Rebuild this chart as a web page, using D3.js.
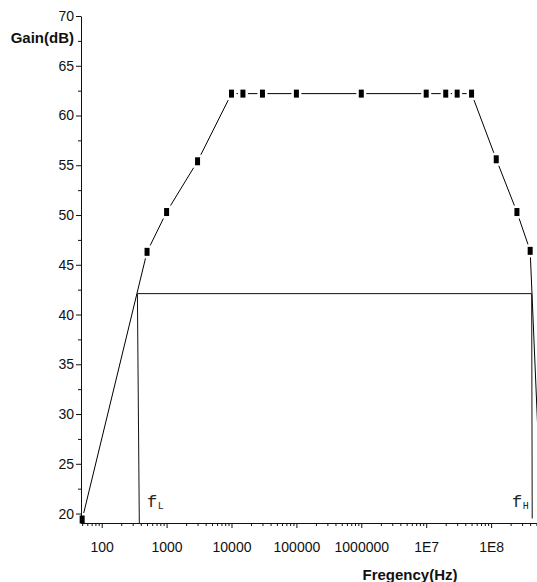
<!DOCTYPE html>
<html>
<head>
<meta charset="utf-8">
<script src="https://cdn.jsdelivr.net/npm/d3@7"></script>
<style>
  html, body { margin: 0; padding: 0; background: #fff; }
  svg { display: block; }
</style>
</head>
<body>
<script>
// ---- data ----
const freqs = [50, 500, 1000, 3000, 10000, 15000, 30000, 1e5, 1e6, 1e7, 2e7, 3e7, 5e7, 1.2e8, 2.5e8, 4e8, 6e8];
const gains = [19.4, 46.3, 50.3, 55.4, 62.2, 62.2, 62.2, 62.2, 62.2, 62.2, 62.2, 62.2, 62.2, 55.6, 50.3, 46.4, 19.4];
const yTicks = [20, 25, 30, 35, 40, 45, 50, 55, 60, 65, 70];
const yMinorTicks = [22.5, 27.5, 32.5, 37.5, 42.5, 47.5, 52.5, 57.5, 62.5, 67.5];
const xTickValues = [100, 1000, 1e4, 1e5, 1e6, 1e7, 1e8];
const xTickLabels = ["100", "1000", "10000", "100000", "1000000", "1E7", "1E8"];
const cutoffGain = 42.1;
const fLine = [380, 355];      // bottom, top of f_L marker line
const fHLine = [4.22e8, 4.3e8]; // top, bottom of f_H marker line
const yLabel = "Gain(dB)";
const xLabel = "Fregency(Hz)";

// ---- layout ----
const W = 537, H = 582;
const svg = d3.select("body").append("svg").attr("width", W).attr("height", H);
const x = d3.scaleLog().domain([48, 1e9]).range([81, 556]);
const y = d3.scaleLinear().domain([19.05, 70]).range([523, 16]);
const sans = "'Liberation Sans', Arial, Helvetica, sans-serif";
const mono = "'Liberation Mono', 'Courier New', Courier, monospace";

// data line
const pts = d3.zip(freqs, gains);
svg.append("path").datum(pts)
  .attr("d", d3.line().x(d => x(d[0])).y(d => y(d[1])))
  .attr("fill", "none").attr("stroke", "#000").attr("stroke-width", 1);

// white gaps around markers
svg.append("g").selectAll("rect").data(pts).join("rect")
  .attr("x", d => x(d[0]) - 5).attr("y", d => y(d[1]) - 6.5)
  .attr("width", 10).attr("height", 13).attr("fill", "#fff");

// cutoff lines
const cut = [[fLine[0], 19.05], [fLine[1], cutoffGain], [fHLine[0], cutoffGain], [fHLine[1], 19.5]];
svg.append("path").datum(cut)
  .attr("d", d3.line().x(d => x(d[0])).y(d => y(d[1])))
  .attr("fill", "none").attr("stroke", "#111").attr("stroke-width", 1);

// axes
const minorX = [];
for (let k = 1; k <= 8; k++) for (let m = 2; m <= 9; m++) {
  const v = m * Math.pow(10, k);
  if (v >= 48 && v <= 1e9) minorX.push(v);
}
const gx = svg.append("g").attr("transform", "translate(0,523)").style("color", "#111");
gx.call(d3.axisBottom(x).tickValues(xTickValues).tickFormat((d, i) => xTickLabels[i])
  .tickSize(5).tickSizeOuter(0).tickPadding(14));
gx.selectAll("text").attr("font-size", 14).attr("font-family", sans);
const gxm = svg.append("g").attr("transform", "translate(0,523)").style("color", "#111");
gxm.call(d3.axisBottom(x).tickValues(minorX).tickFormat("").tickSize(3).tickSizeOuter(0));
gxm.select(".domain").remove();

const gy = svg.append("g").attr("transform", "translate(81,0)").style("color", "#111");
gy.call(d3.axisLeft(y).tickValues(yTicks).tickSize(5).tickSizeOuter(0).tickPadding(2));
gy.selectAll("text").attr("font-size", 14).attr("font-family", sans);
const gym = svg.append("g").attr("transform", "translate(81,0)").style("color", "#111");
gym.call(d3.axisLeft(y).tickValues(yMinorTicks).tickFormat("").tickSize(3).tickSizeOuter(0));
gym.select(".domain").remove();

// markers
svg.append("g").selectAll("rect").data(pts).join("rect")
  .attr("x", d => x(d[0]) - 2.5).attr("y", d => y(d[1]) - 4)
  .attr("width", 5).attr("height", 8).attr("fill", "#000");

// axis titles
svg.append("text").attr("x", 74).attr("y", 43).attr("text-anchor", "end")
  .attr("font-family", sans).attr("font-weight", "bold").attr("font-size", 15)
  .attr("fill", "#111").text(yLabel);
svg.append("text").attr("x", 410).attr("y", 580).attr("text-anchor", "middle")
  .attr("font-family", sans).attr("font-weight", "bold").attr("font-size", 15)
  .attr("fill", "#111").text(xLabel);

// f_L, f_H labels
function fLabel(xPos, sub) {
  const t = svg.append("text").attr("x", xPos).attr("y", 507)
    .attr("font-family", mono).attr("font-size", 17).attr("fill", "#222");
  t.append("tspan").text("f");
  t.append("tspan").attr("font-size", 10).attr("dy", 1.5).attr("dx", 0.5).text(sub);
}
fLabel(x(fLine[1]) + 9.6, "L");
fLabel(x(fHLine[0]) - 19.7, "H");
</script>
</body>
</html>
